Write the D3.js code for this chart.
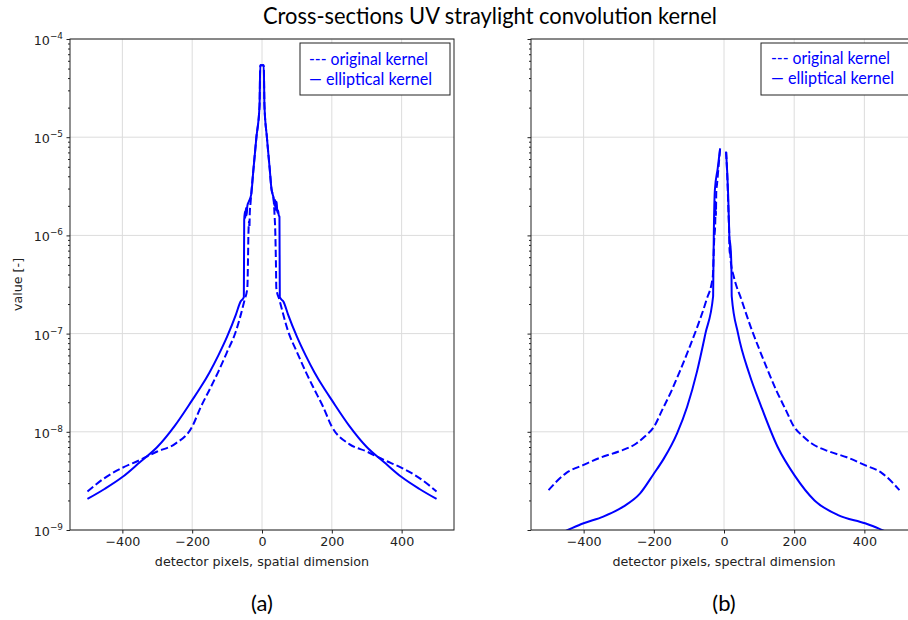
<!DOCTYPE html>
<html><head><meta charset="utf-8">
<script src="https://cdn.jsdelivr.net/npm/d3@7"></script>
<style>body{margin:0;background:#fff} svg{display:block}</style>
</head><body><svg id="c" width="908" height="620"></svg>
<script>
// ---------- data ----------
const titleText = "Cross-sections UV straylight convolution kernel";
const xTickValues = [-400, -200, 0, 200, 400];
const yDecadeExps = [-9, -8, -7, -6, -5, -4];
const legendLabels = ["--- original kernel", "\u2014 elliptical kernel"];
const panelLabels = ["(a)", "(b)"];
const xAxisLabels = ["detector pixels, spatial dimension", "detector pixels, spectral dimension"];
const yAxisLabel = "value [-]";

// (a) spatial dimension, original kernel (dashed)
const spatialOrigX = [-500,-450,-400,-350,-300,-250,-200,-175,-150,-125,-100,-75,-50,-42,-40,-39,-37,-36,-35,-33,-31,-25,-16,-7,-5,5,7,14,22,27,33,36,38,40,41,50,75,100,125,150,175,200,250,300,350,400,450,500];
const spatialOrigY = [2.47e-9,3.4e-9,4.3e-9,5.15e-9,6.3e-9,7.5e-9,1.13e-8,1.8e-8,2.7e-8,4.1e-8,6.5e-8,1.05e-7,2.2e-7,2.9e-7,6e-7,1.0e-6,1.4e-6,1.2e-6,1.7e-6,2.1e-6,2.6e-6,4.5e-6,1e-5,2.1e-5,5.4e-5,5.4e-5,2.1e-5,1e-5,4.8e-6,3e-6,2.4e-6,1.6e-6,1.1e-6,5e-7,2.9e-7,2.2e-7,1.05e-7,6.5e-8,4.1e-8,2.7e-8,1.8e-8,1.13e-8,7.5e-9,6.3e-9,5.15e-9,4.3e-9,3.4e-9,2.47e-9];
// (a) spatial dimension, elliptical kernel (solid)
const spatialEllX = [-500,-450,-400,-350,-300,-250,-200,-175,-150,-125,-100,-75,-62,-52,-51,-49,-48,-46,-44,-42,-38,-31,-25,-16,-7,-5,5,7,14,22,27,33,36,38,40,42,44,46,48,50,51,62,75,100,125,150,175,200,250,300,350,400,450,500];
const spatialEllY = [2.07e-9,2.63e-9,3.46e-9,4.9e-9,7.0e-9,1.15e-8,2.1e-8,2.87e-8,4.05e-8,6.0e-8,9.3e-8,1.55e-7,2.1e-7,2.35e-7,1.43e-6,1.75e-6,1.5e-6,1.9e-6,1.6e-6,2.0e-6,2.2e-6,2.6e-6,4.5e-6,1e-5,2.1e-5,5.4e-5,5.4e-5,2.1e-5,1e-5,4.8e-6,3e-6,2.4e-6,2.0e-6,2.3e-6,1.8e-6,2.2e-6,1.7e-6,1.8e-6,1.6e-6,1.55e-6,2.35e-7,2.1e-7,1.55e-7,9.3e-8,6.0e-8,4.05e-8,2.87e-8,2.1e-8,1.15e-8,7.0e-9,4.9e-9,3.46e-9,2.63e-9,2.07e-9];
// (b) spectral dimension, original kernel (dashed); null = gap
const spectralOrigX = [-500,-450,-400,-350,-300,-250,-225,-200,-175,-150,-125,-100,-75,-50,-32,-28,-25,-24,-23,-22,-20,-16,-11,-3,6,10,13,15,16,17,19,28,50,75,100,125,150,175,200,225,250,300,350,400,450,500];
const spectralOrigY = [2.55e-9,3.8e-9,4.6e-9,5.5e-9,6.3e-9,7.6e-9,9e-9,1.12e-8,1.7e-8,2.6e-8,4.2e-8,7e-8,1.2e-7,2.2e-7,3.8e-7,9e-7,1.3e-6,2.2e-6,1.6e-6,2.8e-6,3.3e-6,4.8e-6,7.7e-6,null,7.1e-6,3.5e-6,1.6e-6,1.0e-6,6.5e-7,8e-7,5.5e-7,3.8e-7,2.2e-7,1.2e-7,7e-8,4.2e-8,2.6e-8,1.7e-8,1.12e-8,9e-9,7.6e-9,6.3e-9,5.5e-9,4.6e-9,3.8e-9,2.55e-9];
// (b) spectral dimension, elliptical kernel (solid); null = gap
const spectralEllX = [-500,-445,-400,-344,-287,-239,-201,-172,-134,-105,-77,-53,-31,-30,-29,-26,-18,-11,-3,6,12,15,16,17,21,22,40,72,105,153,201,258,325,402,440,500];
const spectralEllY = [8.2e-10,1.0e-9,1.17e-9,1.37e-9,1.73e-9,2.36e-9,3.7e-9,5.3e-9,9.6e-9,1.8e-8,4.1e-8,1e-7,2.4e-7,5.6e-7,1.06e-6,2.9e-6,4.8e-6,7.7e-6,null,7.1e-6,2.5e-6,1.05e-6,8e-7,9e-7,5e-7,2.4e-7,1e-7,3.9e-8,1.85e-8,7e-9,3.6e-9,2.0e-9,1.42e-9,1.17e-9,1.04e-9,8.2e-10];

// ---------- drawing ----------
const svg = d3.select("#c");
const BLUE = "#0000ff";
const AX_FONT = "'DejaVu Sans', sans-serif";
const DOC_FONT = "Lato, 'Open Sans', sans-serif";
const AX_SIZE = 12.7;

function squeezeTo(sel, target) {
  const w = sel.node().getComputedTextLength();
  if (w > target) sel.attr("textLength", target).attr("lengthAdjust", "spacingAndGlyphs");
}

const panels = [
  {left: 70, top: 39, width: 384, height: 491,
   series: [[spatialOrigX, spatialOrigY, true], [spatialEllX, spatialEllY, false]], yLabels: true},
  {left: 531, top: 39, width: 386, height: 491,
   series: [[spectralOrigX, spectralOrigY, true], [spectralEllX, spectralEllY, false]], yLabels: false}
];

panels.forEach((p, i) => {
  const x = d3.scaleLinear().domain([-550, 550]).range([p.left, p.left + p.width]);
  const y = d3.scaleLog().domain([1e-9, 1e-4]).range([p.top + p.height, p.top]);
  const g = svg.append("g");

  // grid
  g.append("g").selectAll("line").data(xTickValues).join("line")
    .attr("x1", d => x(d)).attr("x2", d => x(d))
    .attr("y1", p.top).attr("y2", p.top + p.height)
    .attr("stroke", "#dcdcdc").attr("stroke-width", 1);
  g.append("g").selectAll("line").data(yDecadeExps.map(e => Math.pow(10, e))).join("line")
    .attr("x1", p.left).attr("x2", p.left + p.width)
    .attr("y1", d => y(d)).attr("y2", d => y(d))
    .attr("stroke", "#dcdcdc").attr("stroke-width", 1);

  // clip
  const cid = "clip" + i;
  svg.append("clipPath").attr("id", cid).append("rect")
    .attr("x", p.left).attr("y", p.top).attr("width", p.width).attr("height", p.height);

  const line = d3.line()
    .defined(d => d[1] != null)
    .x(d => x(d[0])).y(d => y(d[1]))
    .curve(d3.curveMonotoneX);

  p.series.forEach(([xs, ys, dashed]) => {
    const pts = xs.map((v, k) => [v, ys[k]]);
    g.append("path").attr("clip-path", `url(#${cid})`)
      .attr("d", line(pts))
      .attr("fill", "none").attr("stroke", BLUE).attr("stroke-width", 2)
      .attr("stroke-linejoin", "round")
      .attr("stroke-dasharray", dashed ? "7.4,3.2" : null);
  });

  // x axis
  const xa = g.append("g").attr("transform", `translate(0,${p.top + p.height})`)
    .call(d3.axisBottom(x).tickValues(xTickValues).tickSize(3.5).tickPadding(3.5)
      .tickFormat(d => d < 0 ? "\u2212" + Math.abs(d) : String(d)));
  xa.select(".domain").remove();
  xa.selectAll("line").attr("stroke", "#222");
  xa.selectAll("text").attr("font-family", AX_FONT).attr("font-size", AX_SIZE).attr("fill", "#222");

  // y axis major & minor ticks
  const ya = g.append("g").attr("transform", `translate(${p.left},0)`)
    .call(d3.axisLeft(y).tickValues(yDecadeExps.map(e => Math.pow(10, e))).tickSize(3.5).tickFormat(""));
  ya.select(".domain").remove();
  ya.selectAll("line").attr("stroke", "#222");
  const minors = [];
  yDecadeExps.slice(0, -1).forEach(e => { for (let m = 2; m <= 9; m++) minors.push(m * Math.pow(10, e)); });
  const ym = g.append("g").attr("transform", `translate(${p.left},0)`)
    .call(d3.axisLeft(y).tickValues(minors).tickSize(2).tickFormat(""));
  ym.select(".domain").remove();
  ym.selectAll("line").attr("stroke", "#222");

  if (p.yLabels) {
    yDecadeExps.forEach(e => {
      const t = g.append("text").attr("x", p.left - 7).attr("y", y(Math.pow(10, e)) + 6)
        .attr("text-anchor", "end").attr("font-family", AX_FONT).attr("font-size", AX_SIZE).attr("fill", "#222");
      t.append("tspan").text("10");
      t.append("tspan").attr("dy", -6).attr("font-size", AX_SIZE * 0.7).text("\u2212" + Math.abs(e));
    });
    g.append("text").attr("transform", `translate(22,${p.top + p.height / 2}) rotate(-90)`)
      .attr("text-anchor", "middle").attr("font-family", AX_FONT).attr("font-size", AX_SIZE).attr("fill", "#222")
      .text(yAxisLabel);
  }

  // frame
  g.append("rect").attr("x", p.left).attr("y", p.top).attr("width", p.width).attr("height", p.height)
    .attr("fill", "none").attr("stroke", "#222").attr("stroke-width", 1);

  // x label
  g.append("text").attr("x", x(0)).attr("y", 566).attr("text-anchor", "middle")
    .attr("font-family", AX_FONT).attr("font-size", AX_SIZE).attr("fill", "#222").text(xAxisLabels[i]);

  // panel label
  g.append("text").attr("x", x(0)).attr("y", 611).attr("text-anchor", "middle")
    .attr("font-family", DOC_FONT).attr("font-size", 22).attr("fill", "#000").text(panelLabels[i]);

  // legend
  const lx = i === 0 ? 300 : 761;
  const lg = g.append("g");
  lg.append("rect").attr("x", lx).attr("y", 43).attr("width", 150).attr("height", 52)
    .attr("fill", "#fff").attr("stroke", "#222").attr("stroke-width", 1);
  legendLabels.forEach((lab, k) => {
    const t = lg.append("text").attr("x", lx + (i === 0 ? 9 : 10)).attr("y", 65 + k * 20 - (i === 0 ? 0 : 1))
      .attr("font-family", DOC_FONT).attr("font-size", 17.5).attr("fill", BLUE).text(lab);
    squeezeTo(t, k === 0 ? 119 : 123);
  });
});

// title
const tt = svg.append("text").attr("x", 490).attr("y", 24).attr("text-anchor", "middle")
  .attr("font-family", DOC_FONT).attr("font-size", 22.5).attr("fill", "#000").text(titleText);
squeezeTo(tt, 454);
</script>
</body></html>
